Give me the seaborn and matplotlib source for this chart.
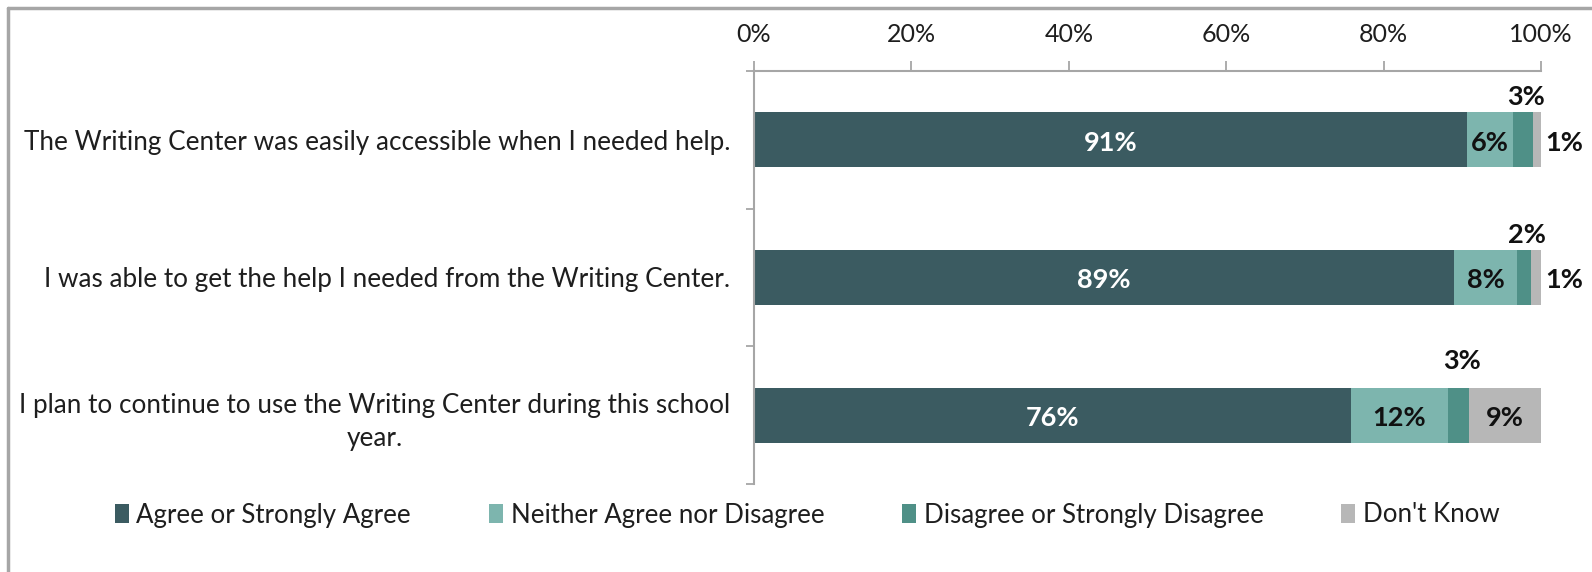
import matplotlib
matplotlib.use("Agg")
import matplotlib.pyplot as plt
from matplotlib.lines import Line2D
from matplotlib.patches import Patch
import numpy as np
import pandas as pd
import seaborn as sns

# Survey statements (y categories) and response groups
statements = [
    "The Writing Center was easily accessible when I needed help.",
    "I was able to get the help I needed from the Writing Center.",
    "I plan to continue to use the Writing Center during this school\nyear.",
]
responses = [
    "Agree or Strongly Agree",
    "Neither Agree nor Disagree",
    "Disagree or Strongly Disagree",
    "Don't Know",
]

# Share of respondents (%) per statement
agree = [90.6, 89.0, 75.8]
neither = [5.8, 7.9, 12.4]
disagree = [2.6, 1.8, 2.7]
dont_know = [1.0, 1.3, 9.1]

x_ticks = [0, 20, 40, 60, 80, 100]

colors = ["#3B5B61", "#7DB5AE", "#4F9087", "#B7B7B7"]
label_colors = ["white", "#111111", "#111111", "#111111"]
GRID = "#A6A6A6"
TEXT = "#1E1E1E"
# vertical lift of the small "disagree" labels placed above each bar
above_lift = [0.31, 0.31, 0.39]

sns.set_theme(style="white")
plt.rcParams["font.family"] = ["Lato", "DejaVu Sans"]

W, H = 1592, 572
fig = plt.figure(figsize=(W / 100, H / 100), dpi=100)
ax = fig.add_axes([754 / W, 1 - 484 / H, (1541 - 754) / W, (484 - 71) / H])

series = [agree, neither, disagree, dont_know]
cum = np.cumsum(np.array(series, dtype=float), axis=0)

# Stacked bars: draw cumulative totals from the outermost segment inwards
for k in range(len(series) - 1, -1, -1):
    df = pd.DataFrame({"statement": statements, "value": cum[k]})
    sns.barplot(data=df, x="value", y="statement", orient="y",
                color=colors[k], saturation=1, width=0.4,
                errorbar=None, linewidth=0, ax=ax)

ax.set_xlim(0, 100)
ax.set_ylim(2.5, -0.5)
ax.set_xlabel("")
ax.set_ylabel("")

# x axis on top, percent ticks
ax.xaxis.tick_top()
ax.set_xticks(x_ticks)
ax.set_xticklabels([f"{t}%" for t in x_ticks])
ax.tick_params(axis="x", which="major", direction="out", length=7, width=1.3,
               color=GRID, pad=11, labelsize=18, labelcolor=TEXT)

# y axis: labels at bar centres, tick marks between categories
ax.set_yticks(range(len(statements)))
ax.set_yticklabels(statements)
ax.set_yticks([-0.5, 0.5, 1.5, 2.5], minor=True)
ax.tick_params(axis="y", which="major", length=0, pad=17, labelsize=18.8,
               labelcolor=TEXT)
ax.tick_params(axis="y", which="minor", direction="out", length=6, width=1.3,
               color=GRID, left=True)
for lab in ax.get_yticklabels():
    lab.set_multialignment("center")
    lab.set_linespacing(1.4)

for side in ("right", "bottom"):
    ax.spines[side].set_visible(False)
for side in ("left", "top"):
    ax.spines[side].set_visible(True)
    ax.spines[side].set_color(GRID)
    ax.spines[side].set_linewidth(1.5)
ax.grid(False)

# Value labels
LBL = 19.5
for i in range(len(statements)):
    starts = [0.0] + list(cum[:-1, i])
    for k in range(len(series)):
        v = series[k][i]
        txt = f"{v:.0f}%"
        centre = starts[k] + v / 2
        if v >= 5:
            ax.text(centre, i + 0.02, txt, ha="center", va="center",
                    fontsize=LBL, fontweight="bold", color=label_colors[k])
        elif k == 2:
            ax.text(centre + 0.4, i - above_lift[i], txt, ha="center",
                    va="center", fontsize=LBL, fontweight="bold",
                    color="#111111")
        else:
            ax.text(cum[-1, i] + 0.6, i + 0.02, txt, ha="left", va="center",
                    fontsize=LBL, fontweight="bold", color="#111111")

# Legend below the plot
handles = [Patch(facecolor=c, edgecolor="none", label=r)
           for c, r in zip(colors, responses)]
fig.legend(handles=handles, loc="center", bbox_to_anchor=(0.507, 1 - 515 / H),
           ncol=4, frameon=False, fontsize=18.6, handlelength=0.55,
           handleheight=0.8, handletextpad=0.3, columnspacing=3.0,
           labelcolor=TEXT)

# Chart frame
fig.add_artist(Line2D([8 / W, 1], [1 - 8 / H, 1 - 8 / H],
                      transform=fig.transFigure, color=GRID, lw=2.5))
fig.add_artist(Line2D([8 / W, 8 / W], [0, 1 - 8 / H],
                      transform=fig.transFigure, color=GRID, lw=2.5))

fig.savefig("out.png", dpi=100, facecolor="white")
